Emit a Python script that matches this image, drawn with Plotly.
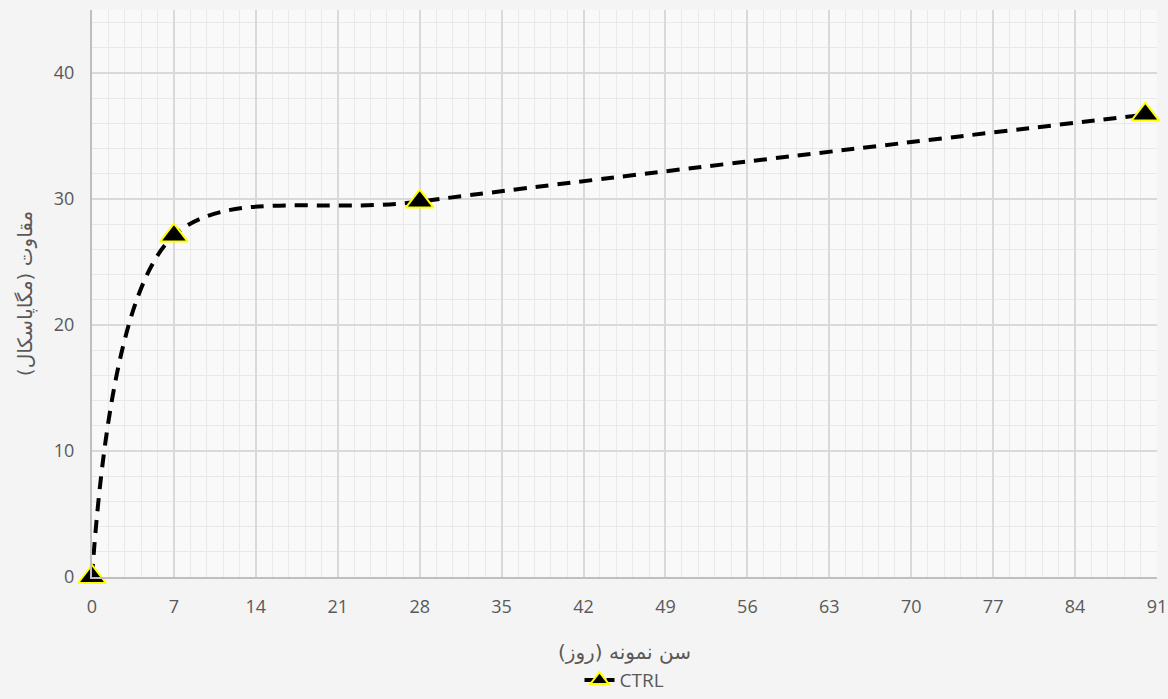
import plotly.graph_objects as go

# Strength development of the control mix
age_days = [0, 7, 28, 90]
strength_mpa = [0, 27.1, 29.8, 36.7]
series_name = "CTRL"

x_ticks = [0, 7, 14, 21, 28, 35, 42, 49, 56, 63, 70, 77, 84, 91]
y_ticks = [0, 10, 20, 30, 40]

x_title = "سن نمونه (روز)"
y_title = "مقاوت (مگاپاسکال)"

fig = go.Figure()
fig.add_trace(go.Scatter(
    x=age_days,
    y=strength_mpa,
    name=series_name,
    mode="lines+markers",
    line=dict(color="black", width=4, dash="13px,9px", shape="spline", smoothing=0.95),
    marker=dict(symbol="triangle-up", size=24, color="black",
                line=dict(color="#ffff00", width=2)),
    cliponaxis=False,
))

axis_font = dict(family="Open Sans, DejaVu Sans, sans-serif", size=18, color="#595959")
title_font = dict(family="DejaVu Sans, sans-serif", size=20, color="#595959")

fig.update_layout(
    width=1168,
    height=699,
    margin=dict(l=92, r=11, t=10, b=122, autoexpand=False),
    paper_bgcolor="#f4f4f4",
    plot_bgcolor="#f9f9f9",
    font=axis_font,
    showlegend=True,
    legend=dict(
        orientation="h",
        x=0.5, xanchor="center",
        y=-0.2155, yanchor="bottom",
        bgcolor="rgba(0,0,0,0)",
        tracegroupgap=0,
        font=dict(family="Open Sans, DejaVu Sans, sans-serif", size=19, color="#595959"),
    ),
    xaxis=dict(
        range=[0, 91],
        tickvals=x_ticks,
        showgrid=True,
        gridcolor="#d9d9d9",
        gridwidth=1.5,
        minor=dict(dtick=1.4, tick0=0, showgrid=True, gridcolor="#e9e9e9", gridwidth=1),
        showline=True,
        linecolor="#bfbfbf",
        linewidth=2,
        zeroline=False,
        ticks="",
        ticklabelstandoff=12,
        tickfont=axis_font,
        title=dict(text=x_title, standoff=28, font=title_font),
    ),
    yaxis=dict(
        range=[0, 45],
        tickvals=y_ticks,
        showgrid=True,
        gridcolor="#d9d9d9",
        gridwidth=1.5,
        minor=dict(dtick=2, tick0=0, showgrid=True, gridcolor="#e9e9e9", gridwidth=1),
        showline=True,
        linecolor="#bfbfbf",
        linewidth=2,
        zeroline=False,
        ticks="",
        ticklabelstandoff=12,
        tickfont=axis_font,
        title=dict(text=y_title, standoff=16, font=title_font),
    ),
)

fig.write_html("out.html")
